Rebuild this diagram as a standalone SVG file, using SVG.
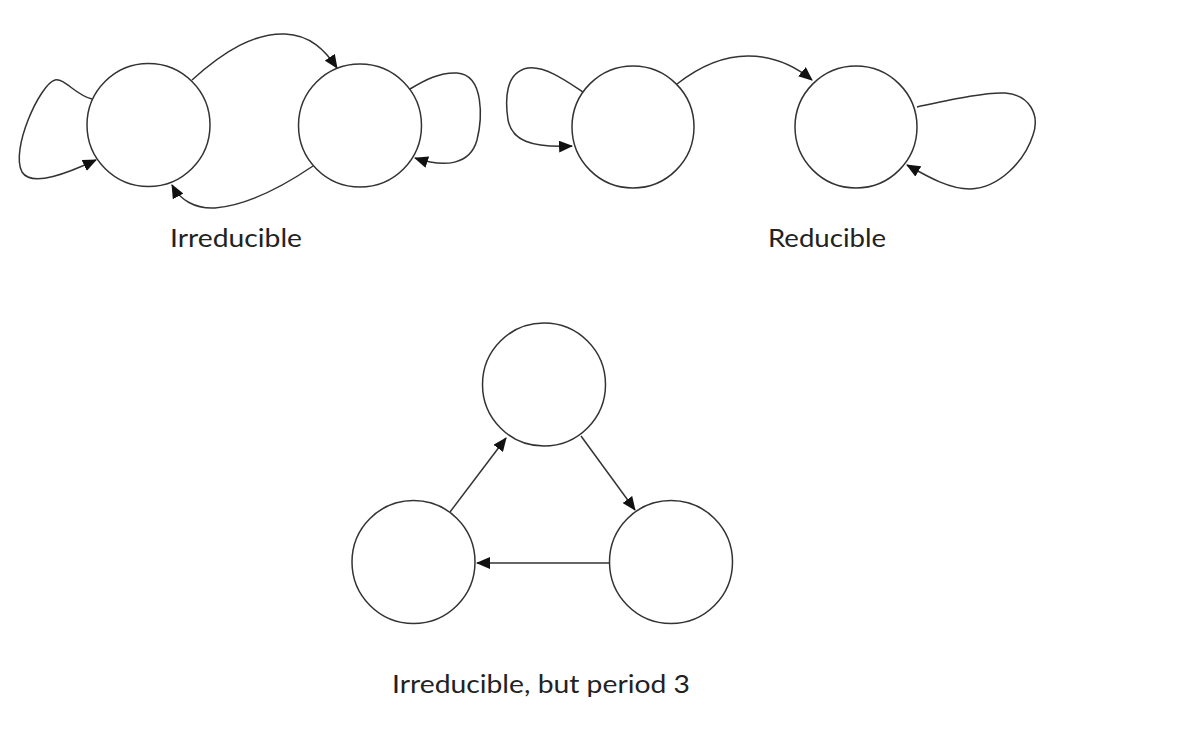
<svg xmlns="http://www.w3.org/2000/svg" width="1192" height="742" viewBox="0 0 1192 742">
<style>
.node{fill:#fff;stroke:#333;stroke-width:1.5}
.edge{fill:none;stroke:#333;stroke-width:1.5;marker-end:url(#ah)}
.lbl{font-family:Lato,"Open Sans","Liberation Sans",sans-serif;font-size:25px;fill:#222;text-anchor:middle}
</style>
<defs>
<marker id="ah" markerUnits="userSpaceOnUse" markerWidth="14" markerHeight="12" viewBox="0 0 14 12" refX="13" refY="6" orient="auto">
<path d="M0,0 L14,6 L0,12 Z" fill="#111"/>
</marker>
</defs>
<rect width="1192" height="742" fill="#fff"/>
<g id="connectors">
<path class="edge" d="M92,99 C75,95 65,78 55,80 C40,84 10,150 22,172 C32,188 70,172 96,160"/>
<path class="edge" d="M192,80 C225,50 255,33 285,34 C310,35 325,50 337,68"/>
<path class="edge" d="M313,166 C285,185 250,205 215,208 C195,209 180,200 172,185"/>
<path class="edge" d="M410,89 C425,80 440,72 457,73 C485,75 482,120 477,140 C470,165 445,168 415,158"/>
<path class="edge" d="M583,92 C565,80 545,66 528,68 C505,72 505,100 508,120 C512,140 530,148 572,146"/>
<path class="edge" d="M677,84 C700,66 725,56 748,56 C775,56 795,66 812,80"/>
<path class="edge" d="M917,107 C950,100 985,92 1005,93 C1030,95 1040,115 1033,135 C1025,160 1000,188 970,189 C950,189 930,178 907,165"/>
<path class="edge" d="M450,512 L506,438"/>
<path class="edge" d="M581,436 L635,510"/>
<path class="edge" d="M609,563 L477,563"/>
</g>
<g id="irr-a"><circle class="node" cx="148.5" cy="125" r="61.5"/></g>
<g id="irr-b"><circle class="node" cx="360" cy="125.5" r="61.5"/></g>
<g id="red-a"><circle class="node" cx="633" cy="127" r="61"/></g>
<g id="red-b"><circle class="node" cx="856" cy="127" r="61"/></g>
<g id="per-top"><circle class="node" cx="544" cy="384.5" r="61.5"/></g>
<g id="per-left"><circle class="node" cx="413.5" cy="562" r="61.5"/></g>
<g id="per-right"><circle class="node" cx="671" cy="562" r="61.5"/></g>
<g id="labels">
<text class="lbl" x="236" y="247" textLength="132" lengthAdjust="spacingAndGlyphs">Irreducible</text>
<text class="lbl" x="827" y="247" textLength="118" lengthAdjust="spacingAndGlyphs">Reducible</text>
<text class="lbl" x="541" y="693" textLength="298" lengthAdjust="spacingAndGlyphs">Irreducible, but period 3</text>
</g>
</svg>
